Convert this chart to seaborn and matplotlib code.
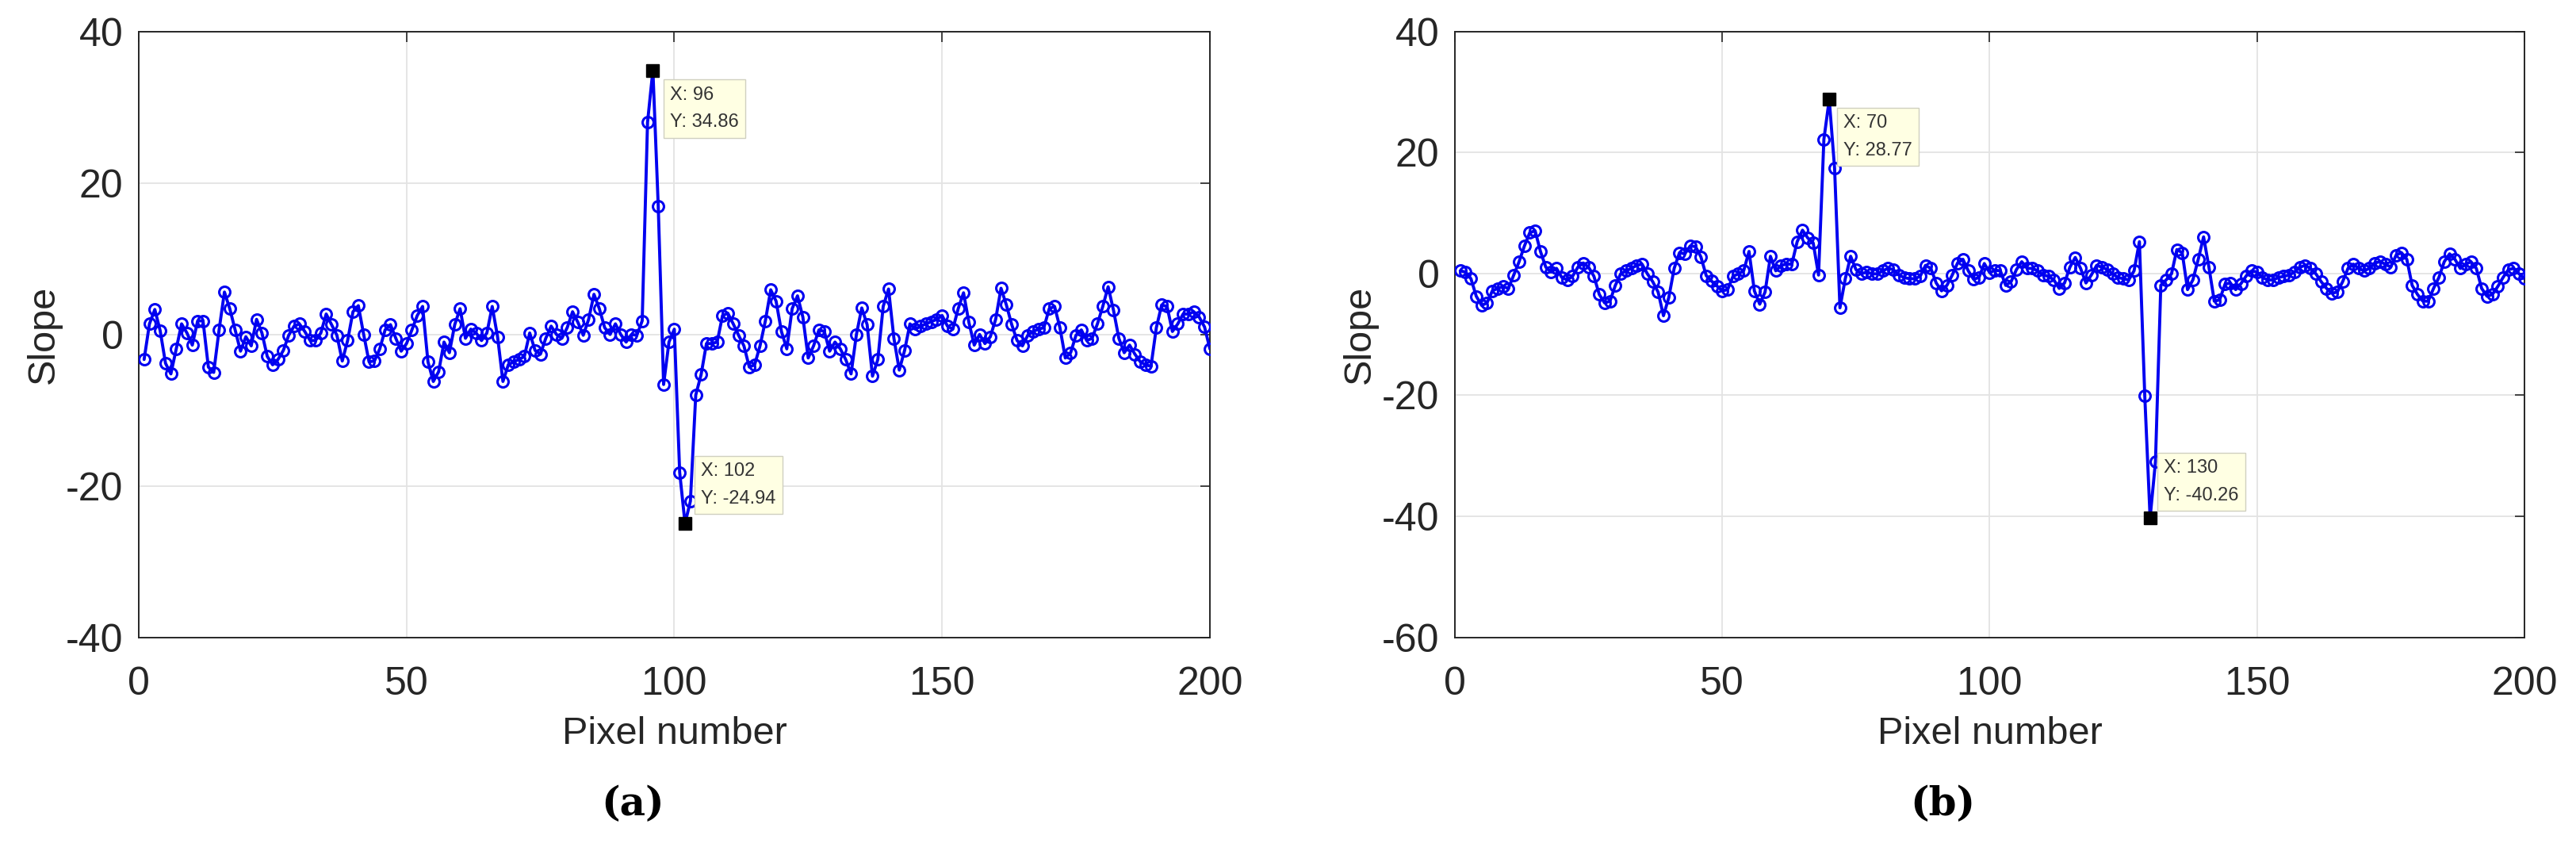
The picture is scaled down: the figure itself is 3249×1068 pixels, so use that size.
import numpy as np
import matplotlib
matplotlib.use('Agg')
import matplotlib.pyplot as plt
import seaborn as sns

# Slope values (pixel 1..200)
pixels = list(range(1, 201))

slope_a = [
    -3.3, 1.4, 3.3, 0.5, -3.8, -5.2, -1.9, 1.4, 0.2, -1.4,
    1.8, 1.8, -4.3, -5.0, 0.6, 5.6, 3.4, 0.6, -2.2, -0.3,
    -1.5, 2.0, 0.2, -2.9, -4.0, -3.3, -2.1, -0.1, 1.1, 1.4,
    0.4, -0.8, -0.8, 0.2, 2.7, 1.3, -0.1, -3.5, -0.8, 3.0,
    3.8, 0.0, -3.6, -3.5, -1.9, 0.6, 1.3, -0.5, -2.2, -1.2,
    0.6, 2.5, 3.7, -3.6, -6.2, -4.9, -1.0, -2.4, 1.3, 3.4,
    -0.5, 0.7, 0.2, -0.8, 0.2, 3.7, -0.3, -6.2, -4.0, -3.6,
    -3.3, -2.9, 0.2, -2.1, -2.6, -0.5, 1.1, 0.0, -0.5, 0.9,
    3.0, 1.6, -0.1, 2.0, 5.3, 3.4, 0.9, 0.0, 1.4, 0.0,
    -1.0, 0.0, -0.1, 1.8, 28.0, 34.86, 16.9, -6.6, -1.0, 0.7,
    -18.2, -24.94, -22.0, -8.0, -5.3, -1.2, -1.2, -1.0, 2.5, 2.8,
    1.4, -0.1, -1.5, -4.3, -4.0, -1.5, 1.8, 5.9, 4.4, 0.4,
    -1.9, 3.4, 5.1, 2.3, -3.1, -1.5, 0.6, 0.4, -2.2, -1.0,
    -1.9, -3.3, -5.2, 0.0, 3.5, 1.3, -5.5, -3.3, 3.7, 6.0,
    -0.5, -4.7, -2.1, 1.4, 0.7, 1.1, 1.4, 1.7, 2.0, 2.5,
    1.1, 0.7, 3.4, 5.5, 1.6, -1.4, 0.0, -1.2, -0.3, 2.0,
    6.1, 3.9, 1.3, -0.8, -1.5, -0.1, 0.4, 0.7, 0.9, 3.4,
    3.7, 0.9, -3.1, -2.4, -0.1, 0.6, -0.8, -0.5, 1.4, 3.7,
    6.3, 3.2, -0.5, -2.4, -1.4, -2.6, -3.6, -4.0, -4.2, 0.9,
    3.9, 3.7, 0.4, 1.4, 2.7, 2.7, 3.0, 2.3, 1.0, -1.9,
]

slope_b = [
    0.5, 0.3, -0.8, -3.7, -5.2, -4.8, -2.8, -2.4, -2.1, -2.4,
    -0.2, 2.0, 4.6, 6.8, 7.1, 3.7, 1.1, 0.3, 0.9, -0.6,
    -1.0, -0.4, 1.1, 1.8, 1.1, -0.4, -3.4, -4.8, -4.5, -1.9,
    0.0, 0.5, 0.9, 1.4, 1.6, 0.0, -1.3, -3.0, -6.9, -3.9,
    0.9, 3.5, 3.3, 4.6, 4.5, 2.8, -0.3, -1.2, -2.0, -2.8,
    -2.6, -0.4, 0.0, 0.5, 3.7, -2.8, -5.0, -3.0, 2.9, 0.5,
    1.4, 1.6, 1.6, 5.3, 7.2, 5.9, 5.1, -0.2, 22.2, 28.77,
    17.4, -5.6, -0.8, 2.9, 0.7, 0.0, 0.3, 0.0, 0.0, 0.5,
    0.9, 0.7, -0.2, -0.6, -0.8, -0.8, -0.4, 1.4, 0.9, -1.5,
    -2.8, -1.9, -0.2, 1.8, 2.4, 0.5, -0.9, -0.6, 1.7, 0.2,
    0.6, 0.5, -1.9, -1.3, 0.7, 2.0, 0.9, 0.9, 0.5, -0.2,
    -0.4, -1.0, -2.4, -1.5, 1.1, 2.7, 0.9, -1.5, -0.2, 1.4,
    1.1, 0.7, 0.0, -0.6, -0.8, -1.0, 0.5, 5.3, -20.1, -40.26,
    -31.0, -1.9, -1.0, 0.0, 4.0, 3.5, -2.6, -1.0, 2.4, 6.1,
    1.1, -4.5, -4.3, -1.7, -1.5, -2.6, -1.6, -0.3, 0.5, 0.3,
    -0.6, -1.0, -1.0, -0.6, -0.4, -0.2, 0.3, 1.1, 1.4, 0.9,
    0.0, -1.3, -2.4, -3.2, -3.0, -1.3, 0.9, 1.6, 0.9, 0.5,
    0.9, 1.8, 2.0, 1.6, 1.1, 3.1, 3.5, 2.4, -1.9, -3.4,
    -4.5, -4.5, -2.4, -0.6, 2.0, 3.3, 2.4, 0.9, 1.6, 2.0,
    0.9, -2.4, -3.7, -3.4, -2.1, -0.6, 0.7, 0.9, 0.0, -0.8,
]

# Data tips shown on each panel
tips_a_x = [96, 102]
tips_a_y = [34.86, -24.94]
tips_b_x = [70, 130]
tips_b_y = [28.77, -40.26]

panel_labels = ['(a)', '(b)']
ylims = [(-40, 40), (-60, 40)]
yticks = [[-40, -20, 0, 20, 40], [-60, -40, -20, 0, 20, 40]]
xticks = [0, 50, 100, 150, 200]

# MATLAB-like look
sns.set_style('whitegrid')
text_color = '#262626'
plt.rcParams['font.family'] = ['Liberation Sans', 'DejaVu Sans']
plt.rcParams['axes.unicode_minus'] = False

fig = plt.figure(figsize=(32.49, 10.68), dpi=100)
ax_a = fig.add_axes([0.05386, 0.24719, 0.41582, 0.71582])
ax_b = fig.add_axes([0.56479, 0.24719, 0.41520, 0.71582])

panels = [
    (ax_a, slope_a, tips_a_x, tips_a_y, [(22, -20), (20, 20)]),
    (ax_b, slope_b, tips_b_x, tips_b_y, [(18, -19), (17, 17)]),
]

for k, (ax, slope, tx, ty, offsets) in enumerate(panels):
    sns.lineplot(x=pixels, y=slope, ax=ax, color='#0000F0', lw=2.8,
                 marker='o', markersize=10, markerfacecolor='none',
                 markeredgecolor='#0000F0', markeredgewidth=2.2,
                 errorbar=None, zorder=3)

    # data tip squares and boxes
    ax.plot(tx, ty, ls='none', marker='s', markersize=11,
            color='black', zorder=5)
    for x, y, (dx, dy) in zip(tx, ty, offsets):
        ax.annotate(f'X: {x}\nY: {y}', xy=(x, y), xytext=(dx, dy),
                    textcoords='offset pixels', ha='left',
                    va='top' if dy < 0 else 'bottom',
                    fontsize=17, color='#333333', linespacing=1.75,
                    bbox=dict(boxstyle='square,pad=0.35', fc='#FFFFE3',
                              ec='#D0D0C0', lw=1), zorder=6)

    ax.set_xlim(0, 200)
    ax.set_ylim(*ylims[k])
    ax.set_xticks(xticks)
    ax.set_yticks(yticks[k])
    ax.grid(True, color='#E3E3E3', lw=1.3)
    for s in ax.spines.values():
        s.set_visible(True)
        s.set_color(text_color)
        s.set_linewidth(1.4)
    ax.tick_params(direction='in', length=9, width=1.2, colors=text_color,
                   labelsize=36, top=True, right=True,
                   labeltop=False, labelright=False)
    ax.tick_params(axis='x', pad=26)
    ax.tick_params(axis='y', pad=14)
    ax.set_xlabel('Pixel number', fontsize=35, color=text_color, labelpad=12)
    ax.set_ylabel('Slope', fontsize=35, color=text_color, labelpad=4)

# panel captions
fig.text(0.2456, 0.050, panel_labels[0], ha='center', va='center',
         fontsize=36, fontweight='bold', family='DejaVu Serif', color='black')
fig.text(0.7541, 0.050, panel_labels[1], ha='center', va='center',
         fontsize=36, fontweight='bold', family='DejaVu Serif', color='black')

fig.savefig('out.png', dpi=100, facecolor='white')
